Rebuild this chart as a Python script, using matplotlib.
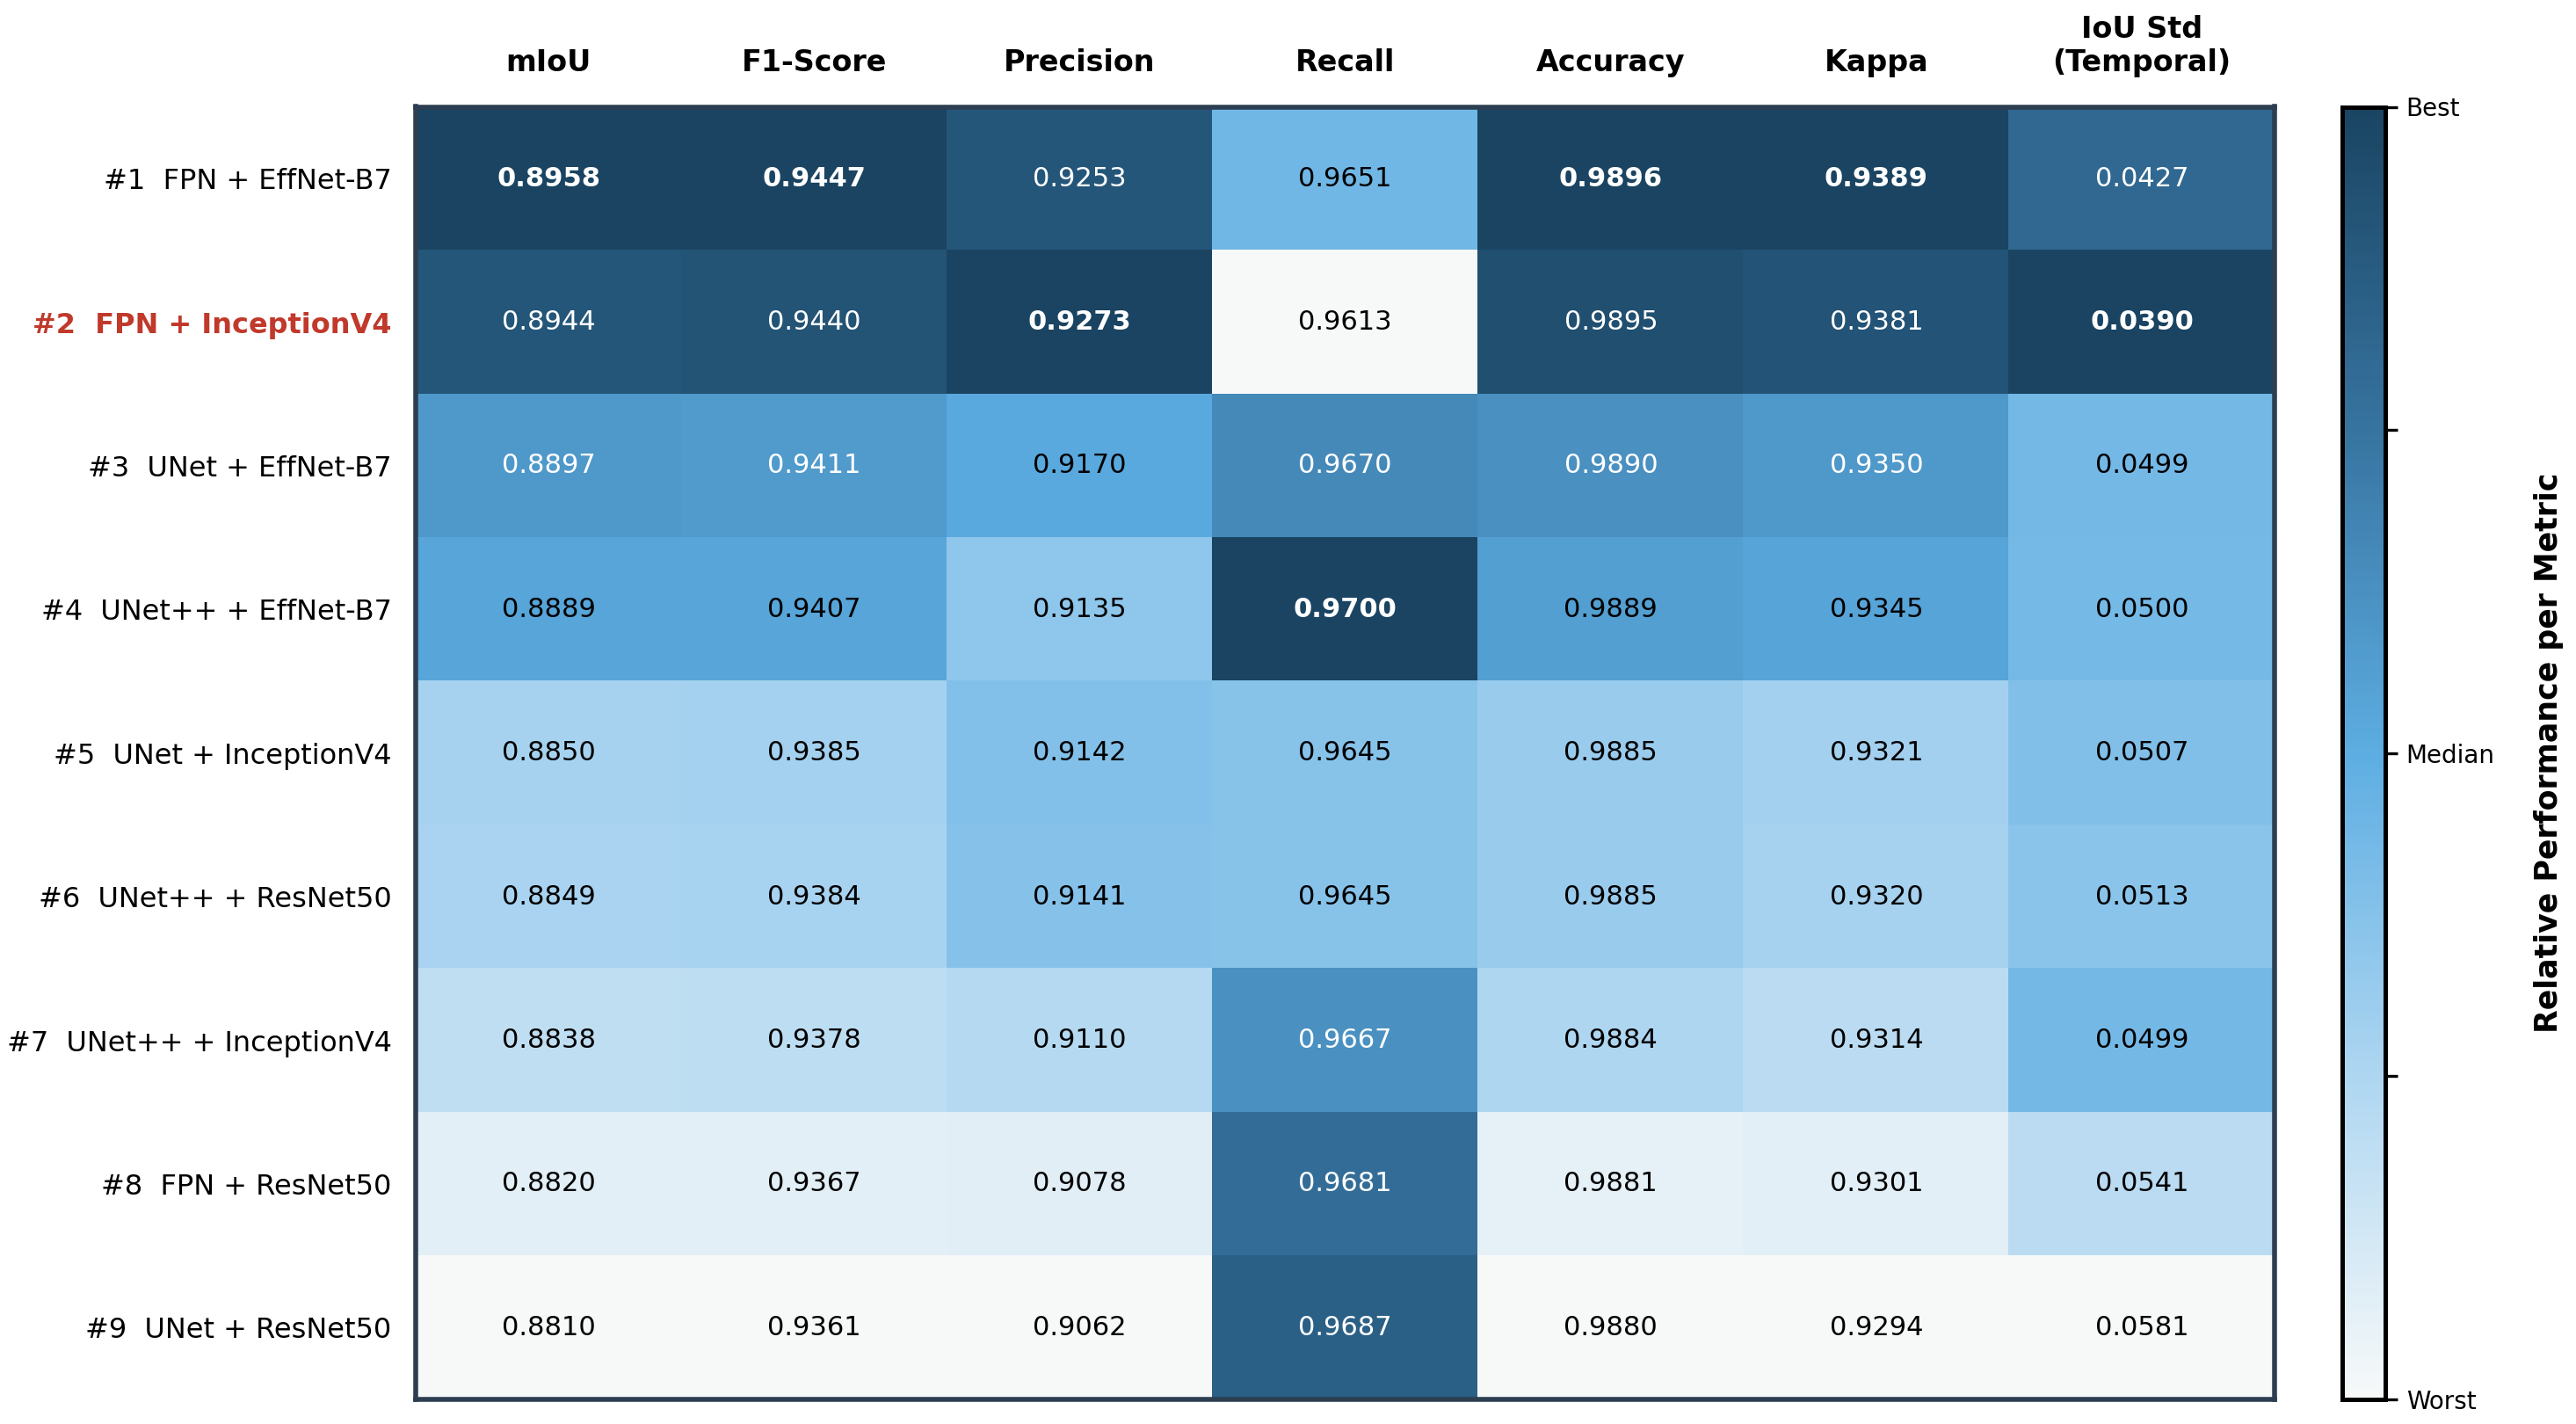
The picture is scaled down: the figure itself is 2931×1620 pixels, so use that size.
import numpy as np
import matplotlib
matplotlib.use("Agg")
import matplotlib.pyplot as plt
from matplotlib.colors import LinearSegmentedColormap

models = ["#1  FPN + EffNet-B7", "#2  FPN + InceptionV4", "#3  UNet + EffNet-B7",
          "#4  UNet++ + EffNet-B7", "#5  UNet + InceptionV4", "#6  UNet++ + ResNet50",
          "#7  UNet++ + InceptionV4", "#8  FPN + ResNet50", "#9  UNet + ResNet50"]
metrics = ["mIoU", "F1-Score", "Precision", "Recall", "Accuracy", "Kappa", "IoU Std\n(Temporal)"]
higher_is_better = [True, True, True, True, True, True, False]

miou      = [0.8958, 0.8944, 0.8897, 0.8889, 0.8850, 0.8849, 0.8838, 0.8820, 0.8810]
f1        = [0.9447, 0.9440, 0.9411, 0.9407, 0.9385, 0.9384, 0.9378, 0.9367, 0.9361]
precision = [0.9253, 0.9273, 0.9170, 0.9135, 0.9142, 0.9141, 0.9110, 0.9078, 0.9062]
recall    = [0.9651, 0.9613, 0.9670, 0.9700, 0.9645, 0.9645, 0.9667, 0.9681, 0.9687]
accuracy  = [0.9896, 0.9895, 0.9890, 0.9889, 0.9885, 0.9885, 0.9884, 0.9881, 0.9880]
kappa     = [0.9389, 0.9381, 0.9350, 0.9345, 0.9321, 0.9320, 0.9314, 0.9301, 0.9294]
iou_std   = [0.0427, 0.0390, 0.0499, 0.0500, 0.0507, 0.0513, 0.0499, 0.0541, 0.0581]

highlight_row = 1

values = np.array([miou, f1, precision, recall, accuracy, kappa, iou_std]).T
norm = np.zeros_like(values)
for j in range(values.shape[1]):
    col = values[:, j]
    s = (col - col.min()) / (col.max() - col.min())
    norm[:, j] = s if higher_is_better[j] else 1 - s

cmap = LinearSegmentedColormap.from_list(
    "perf", [(0.0, "#f7f9f9"), (0.25, "#aed6f1"), (0.5, "#5dade2"),
             (0.75, "#3774a0"), (1.0, "#1a4462")], N=256)

fig = plt.figure(figsize=(14.655, 8.1), dpi=200)
ax = fig.add_axes([0.1615, 0.0173, 0.7215, 0.9077])
cax = fig.add_axes([0.9093, 0.0173, 0.0167, 0.9077])

im = ax.imshow(norm, cmap=cmap, vmin=0, vmax=1, aspect="auto", interpolation="nearest")

nr, nc = values.shape
for i in range(nr):
    for j in range(nc):
        v = norm[i, j]
        best = np.isclose(v, 1.0)
        color = "white" if v > 0.575 else "black"
        ax.text(j, i, f"{values[i, j]:.4f}", ha="center", va="center",
                fontsize=11, color=color, fontweight="bold" if best else "normal")

ax.xaxis.tick_top()
ax.set_xticks(range(nc))
ax.set_xticklabels(metrics, fontsize=12, fontweight="bold", multialignment="center")
ax.set_yticks(range(nr))
ax.set_yticklabels(models, fontsize=11.5)
ax.tick_params(axis="both", length=0)
ax.tick_params(axis="x", pad=12)
ax.tick_params(axis="y", pad=10)
lbl = ax.get_yticklabels()[highlight_row]
lbl.set_color("#c0392b")
lbl.set_fontweight("bold")
for sp in ax.spines.values():
    sp.set_color("#2c3e50")
    sp.set_linewidth(2)

cb = fig.colorbar(im, cax=cax)
cb.set_ticks([0, 0.25, 0.5, 0.75, 1])
cb.set_ticklabels(["Worst", "", "Median", "", "Best"])
cb.ax.tick_params(labelsize=10, length=5, width=1.2)
cb.outline.set_linewidth(1.8)
cb.outline.set_edgecolor("black")
cb.set_label("Relative Performance per Metric", fontsize=12.5, fontweight="bold", labelpad=16)

fig.savefig("out.png", dpi=200)
